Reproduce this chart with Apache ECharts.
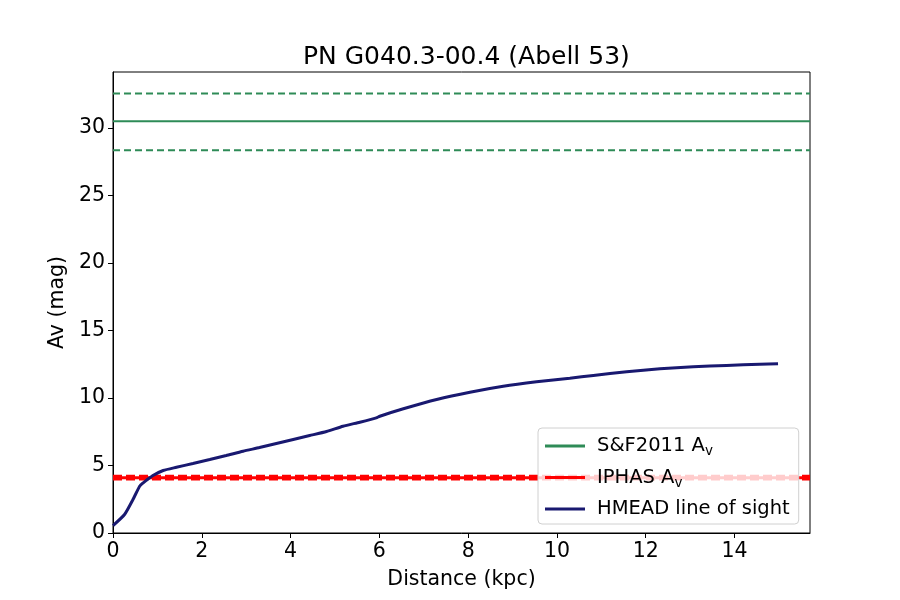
<!DOCTYPE html>
<html>
<head>
<meta charset="utf-8">
<script src="https://cdn.jsdelivr.net/npm/echarts@6/dist/echarts.min.js"></script>
<style>html,body{margin:0;padding:0;background:#fff}#c{width:900px;height:600px}</style>
</head>
<body>
<div id="c"></div>
<script>
var title = 'PN G040.3-00.4 (Abell 53)';
var xRange = [0, 15.7];
var xTicks = [0, 2, 4, 6, 8, 10, 12, 14];
var yTicks = [0, 5, 10, 15, 20, 25, 30];
var sfAv = 30.5, sfErrHi = 32.55, sfErrLo = 28.35;
var iphasAv = 4.1, iphasErrHi = 4.2, iphasErrLo = 4.0;
var hmeadDist = [0,0.26,0.45,0.6,0.68,0.75,0.9,1.13,1.43,1.8,2.18,2.55,2.93,3.3,3.68,4.06,4.43,4.81,5.18,5.56,5.93,6.01,6.54,7.29,8.04,8.79,9.54,10.29,10.82,11.57,12.32,13.07,13.82,14.57,14.98];
var hmeadAv = [0.55,1.37,2.48,3.47,3.72,3.9,4.26,4.63,4.87,5.15,5.44,5.74,6.06,6.33,6.63,6.93,7.22,7.52,7.91,8.21,8.53,8.65,9.2,9.89,10.43,10.87,11.2,11.47,11.67,11.94,12.16,12.31,12.41,12.5,12.53];

function hline(v) { return [[xRange[0], v], [xRange[1], v]]; }
var hmead = hmeadDist.map(function (d, i) { return [d, hmeadAv[i]]; });

var chart = echarts.init(document.getElementById('c'));
chart.setOption({
  animation: false,
  backgroundColor: '#fff',
  textStyle: { fontFamily: 'DejaVu Sans' },
  title: {
    text: title, left: 298, top: 40,
    textStyle: { fontFamily: 'DejaVu Sans', fontSize: 25, fontWeight: 'normal', color: '#000' }
  },
  grid: { left: 113, right: 90, top: 72, bottom: 67, show: true, borderColor: '#000', borderWidth: 1, backgroundColor: 'transparent' },
  legend: {
    orient: 'vertical', left: 538, top: 428,
    data: [
      { name: 'S&F2011 Av', icon: 'rect', itemStyle: { color: '#2e8b57' } },
      { name: 'IPHAS Av', icon: 'rect', itemStyle: { color: '#ff0000' } },
      { name: 'HMEAD line of sight', icon: 'rect', itemStyle: { color: '#191970' } }
    ],
    itemWidth: 40, itemHeight: 3, itemGap: 9,
    padding: [8, 9, 5, 7],
    backgroundColor: 'rgba(255,255,255,0.8)',
    borderColor: '#d0d0d0', borderWidth: 1, borderRadius: 4,
    formatter: function (n) { return n.replace(/ Av$/, ' A{sub|v}'); },
    textStyle: {
      fontFamily: 'DejaVu Sans', fontSize: 19.5, color: '#000', padding: [0, 0, 0, 7],
      rich: { sub: { fontFamily: 'DejaVu Sans', fontSize: 13.5, padding: [11, 0, 0, 0], color: '#000' } }
    }
  },
  xAxis: {
    type: 'value', min: xRange[0], max: xRange[1], interval: 2,
    name: 'Distance (kpc)', nameLocation: 'middle', nameGap: 36,
    nameTextStyle: { fontFamily: 'DejaVu Sans', fontSize: 20.5, color: '#000' },
    axisLine: { show: true, onZero: false, lineStyle: { color: '#000' } },
    axisTick: { show: true, inside: false, length: 5, lineStyle: { color: '#000' } },
    axisLabel: { fontFamily: 'DejaVu Sans', fontSize: 20.5, color: '#000', margin: 8, showMaxLabel: false,
      formatter: function (v) { return xTicks.indexOf(v) >= 0 ? String(v) : ''; } },
    splitLine: { show: false }
  },
  yAxis: {
    type: 'value', min: 0, max: 34.15, interval: 5,
    name: 'Av (mag)', nameLocation: 'middle', nameGap: 42,
    nameTextStyle: { fontFamily: 'DejaVu Sans', fontSize: 20.5, color: '#000' },
    axisLine: { show: true, lineStyle: { color: '#000' } },
    axisTick: { show: true, inside: false, length: 5, lineStyle: { color: '#000' } },
    axisLabel: { fontFamily: 'DejaVu Sans', fontSize: 20.5, color: '#000', margin: 8, showMaxLabel: false,
      formatter: function (v) { return yTicks.indexOf(v) >= 0 ? String(v) : ''; } },
    splitLine: { show: false }
  },
  series: [
    { name: 'S&F2011 Av', type: 'line', symbol: 'none', data: hline(sfAv), color: '#2e8b57',
      lineStyle: { color: '#2e8b57', width: 2 } },
    { name: 'sfhi', type: 'line', symbol: 'none', data: hline(sfErrHi), color: '#2e8b57',
      lineStyle: { color: '#2e8b57', width: 2, type: [7, 4] } },
    { name: 'sflo', type: 'line', symbol: 'none', data: hline(sfErrLo), color: '#2e8b57',
      lineStyle: { color: '#2e8b57', width: 2, type: [7, 4] } },
    { name: 'IPHAS Av', type: 'line', symbol: 'none', data: hline(iphasAv), color: '#ff0000',
      lineStyle: { color: '#ff0000', width: 3 } },
    { name: 'iphi', type: 'line', symbol: 'none', data: hline(iphasErrHi), color: '#ff0000',
      lineStyle: { color: '#ff0000', width: 3, type: [9, 4] } },
    { name: 'iplo', type: 'line', symbol: 'none', data: hline(iphasErrLo), color: '#ff0000',
      lineStyle: { color: '#ff0000', width: 3, type: [9, 4] } },
    { name: 'HMEAD line of sight', type: 'line', symbol: 'none', smooth: 0.2, data: hmead, color: '#191970',
      lineStyle: { color: '#191970', width: 3 } }
  ]
});
</script>
</body>
</html>
